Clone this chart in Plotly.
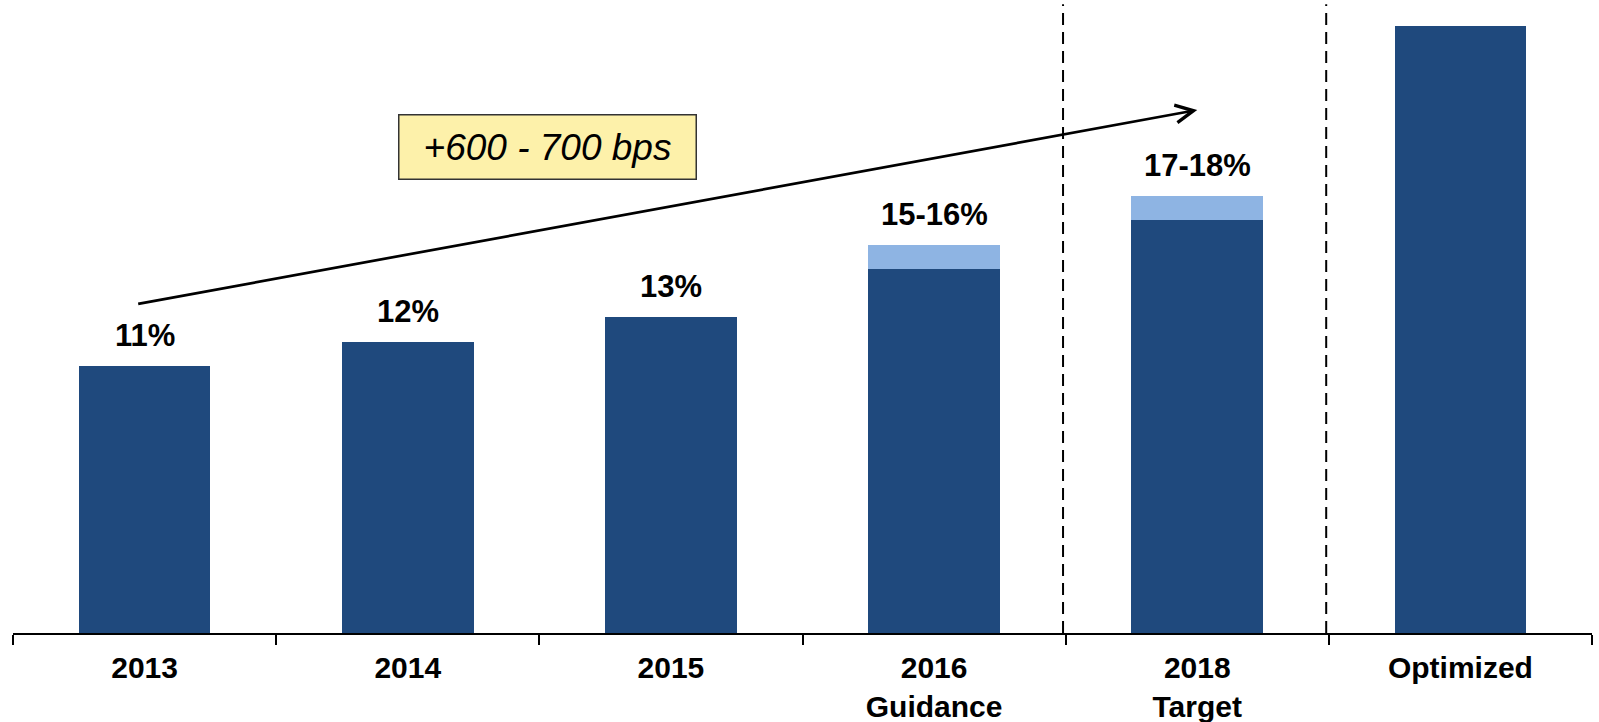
import plotly.graph_objects as go

# Operating margin by period
categories = ["2013", "2014", "2015", "2016<br>Guidance", "2018<br>Target", "Optimized"]
base_margin = [11, 12, 13, 15, 17, 25]          # low end of each range (%)
range_upside = [0, 0, 0, 1, 1, 0]              # spread up to the high end (%)
value_labels = ["11%", "12%", "13%", "15-16%", "17-18%", ""]

# Trend arrow (start/end as category index and margin %)
trend_start = (-0.03, 13.55)
trend_end = (4.0, 21.55)
trend_text = "+600 - 700 bps"
trend_box_pos = (1.53, 20.04)

# Section dividers between historical, target and optimized views
dividers = [3.49, 4.49]

DARK = "#1F497D"
LIGHT = "#8EB4E3"
FONT = "Arial, 'Liberation Sans', sans-serif"

fig = go.Figure()
fig.add_trace(go.Bar(x=categories, y=base_margin, marker=dict(color=DARK, line=dict(width=0)),
                     hoverinfo="skip", showlegend=False))
fig.add_trace(go.Bar(x=categories, y=range_upside, marker=dict(color=LIGHT, line=dict(width=0)),
                     hoverinfo="skip", showlegend=False))

# Value labels above each stack
for i, (b, u, lab) in enumerate(zip(base_margin, range_upside, value_labels)):
    if not lab:
        continue
    fig.add_annotation(x=i, y=b + u, text=lab, showarrow=False, yanchor="bottom",
                       xref="x", yref="y", yshift=11,
                       font=dict(family=FONT, size=31, color="black", weight="bold"))

# Trend arrow
fig.add_annotation(x=trend_end[0], y=trend_end[1], ax=trend_start[0], ay=trend_start[1],
                   xref="x", yref="y", axref="x", ayref="y", text="", showarrow=True,
                   arrowhead=5, arrowsize=1.3, arrowwidth=2.7, arrowcolor="black")

# Callout box
fig.add_annotation(x=trend_box_pos[0], y=trend_box_pos[1], text=trend_text, showarrow=False,
                   width=294, height=61, bgcolor="#FDF1AA", bordercolor="#333333",
                   borderwidth=1.5, borderpad=1, xanchor="center", yanchor="middle",
                   font=dict(family=FONT, size=37, color="black", style="italic"))

for d in dividers:
    fig.add_shape(type="line", x0=d, x1=d, y0=0, y1=25.9, xref="x", yref="y",
                  line=dict(color="black", width=2, dash="12px,7px"))

fig.update_layout(
    width=1599, height=722,
    margin=dict(l=13, r=7, t=0, b=89),
    barmode="stack", bargap=0.5,
    plot_bgcolor="white", paper_bgcolor="white",
    font=dict(family=FONT),
)
fig.update_xaxes(
    type="category", automargin=False,
    range=[-0.5, 5.5], showline=True, linecolor="black", linewidth=2,
    ticks="outside", ticklen=10, tickwidth=2, tickcolor="black", tickson="boundaries",
    ticklabelstandoff=7,
    tickfont=dict(family=FONT, size=30, color="black", weight="bold"),
    showgrid=False, zeroline=False,
)
fig.update_yaxes(visible=False, range=[0, 26.08], showgrid=False, zeroline=False)

fig.write_html("out.html")
